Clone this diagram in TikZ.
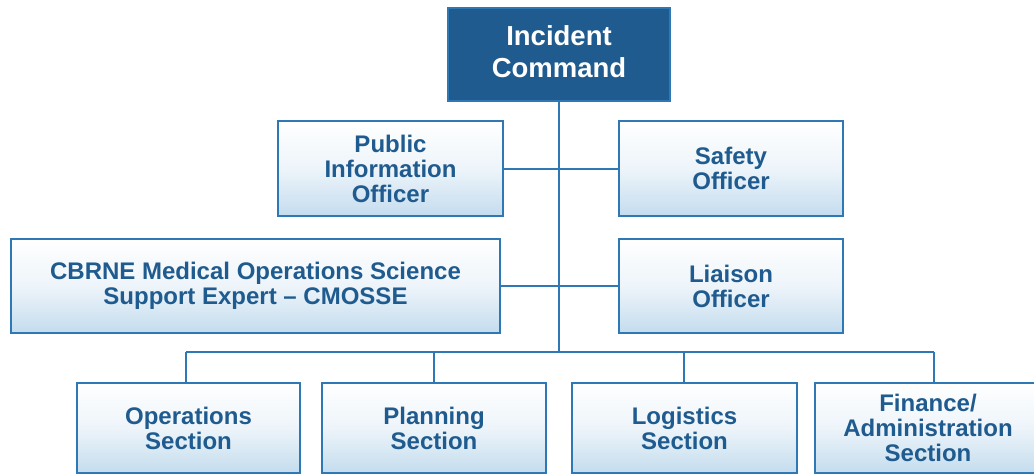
\documentclass[tikz,border=0pt]{standalone}
\usepackage{fontspec}
\setmainfont{Liberation Sans}
\definecolor{navy}{RGB}{31,91,142}
\definecolor{edge}{RGB}{47,120,182}
\definecolor{paleblue}{RGB}{196,220,238}
\begin{document}
\begin{tikzpicture}[x=1pt,y=-1pt,
  unit/.style={draw=edge, line width=2.4pt, rectangle, align=center,
    font=\fontsize{24}{25}\selectfont\bfseries, text=navy,
    top color=white, bottom color=paleblue, middle color=white!70!paleblue,
    inner sep=0pt},
  chief/.style={draw=edge, line width=1.5pt, rectangle, align=center, fill=navy,
    font=\fontsize{27.5}{33}\selectfont\bfseries, text=white, inner sep=0pt},
  link/.style={draw=edge, line width=2pt}]
\useasboundingbox (0,0) rectangle (1034,475);
\fill[white] (0,0) rectangle (1034,475);

% command and staff
\node[chief, minimum width=222pt, minimum height=93pt] (ic) at (559,54.5) {\raisebox{3pt}{\begin{tabular}{@{}c@{}}Incident\\[-1pt]Command\end{tabular}}};
\node[unit, minimum width=225pt, minimum height=95pt] (pio) at (390.5,168.5) {Public\\Information\\Officer};
\node[unit, minimum width=224pt, minimum height=95pt] (safety) at (731,168.5) {Safety\\Officer};
\node[unit, minimum width=489pt, minimum height=94pt] (cmosse) at (255.5,286) {CBRNE Medical Operations Science\\Support Expert -- CMOSSE};
\node[unit, minimum width=224pt, minimum height=94pt] (liaison) at (731,286) {Liaison\\Officer};

% general staff sections
\node[unit, minimum width=223pt, minimum height=90pt] (ops) at (188.5,428) {Operations\\Section};
\node[unit, minimum width=224pt, minimum height=90pt] (plan) at (434,428) {Planning\\Section};
\node[unit, minimum width=225pt, minimum height=90pt] (logi) at (684.5,428) {Logistics\\Section};
\node[unit, minimum width=226pt, minimum height=90pt] (fin) at (928,428) {Finance/\\Administration\\Section};

% bus and drop points
\coordinate (d1) at (186,352);
\coordinate (d2) at (434,352);
\coordinate (d3) at (684,352);
\coordinate (d4) at (934,352);

\draw[link] (ic.south) -- (ic.south |- d1);
\draw[link] (pio.east) -- (safety.west);
\draw[link] (cmosse.east) -- (liaison.west);
\draw[link] (d1) -- (d4);
\draw[link] (d1) -- (d1 |- ops.north);
\draw[link] (d2) -- (d2 |- plan.north);
\draw[link] (d3) -- (d3 |- logi.north);
\draw[link] (d4) -- (d4 |- fin.north);
\end{tikzpicture}
\end{document}
